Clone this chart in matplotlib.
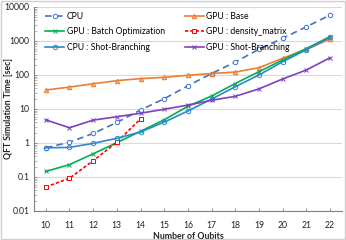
import matplotlib
matplotlib.use("Agg")
import matplotlib.pyplot as plt
from matplotlib.ticker import LogLocator, NullFormatter
from matplotlib.patches import Rectangle

qubits = list(range(10, 23))
qubits_dm = list(range(10, 15))

cpu = [0.72, 1.05, 1.9, 4.0, 9.3, 20, 48, 110, 240, 570, 1200, 2600, 5800]
gpu_base = [36, 44, 55, 68, 78, 85, 98, 110, 122, 163, 310, 570, 1130]
gpu_batch = [0.145, 0.23, 0.48, 1.02, 2.2, 4.8, 12, 24, 56, 125, 275, 600, 1340]
gpu_dm = [0.051, 0.091, 0.30, 1.05, 5.1]
cpu_sb = [0.72, 0.74, 0.97, 1.37, 2.1, 4.1, 8.7, 19.5, 45, 100, 245, 550, 1280]
gpu_sb = [4.8, 2.8, 4.7, 5.9, 7.5, 9.8, 13, 18, 23.5, 39, 76, 140, 320]

xticklabels = [str(q) for q in qubits]
yticks = [0.01, 0.1, 1, 10, 100, 1000, 10000]
yticklabels = ["0.01", "0.1", "1", "10", "100", "1000", "10000"]

plt.rcParams['font.family'] = ['Lato', 'DejaVu Sans']

fig = plt.figure(figsize=(3.46, 2.40), dpi=100)
ax = fig.add_axes([0.098, 0.121, 0.890, 0.850])

ms = 3.2
lw = 1.2
h_cpu, = ax.plot(qubits, cpu, color='#4472C4', ls=(0, (4, 2.5)), lw=lw, marker='o',
                 ms=ms, mfc='white', mec='#4472C4', mew=0.7, label='CPU')
h_base, = ax.plot(qubits, gpu_base, color='#ED7D31', lw=lw, marker='^', ms=ms,
                  mfc='#F4B183', mec='#ED7D31', mew=0.7, label='GPU : Base')
h_batch, = ax.plot(qubits, gpu_batch, color='#00B050', lw=lw, marker='x', ms=ms,
                   mec='#00B050', mew=0.7, label='GPU : Batch Optimization')
h_dm, = ax.plot(qubits_dm, gpu_dm, color='#FF0000', ls=(0, (2, 1.2)), lw=lw, marker='s',
                ms=ms, mfc='white', mec='#FF0000', mew=0.7, label='GPU : density_matrix')
h_csb, = ax.plot(qubits, cpu_sb, color='#2E86D0', lw=lw, marker='o', ms=ms,
                 mfc='none', mec='#2E86D0', mew=0.7, label='CPU : Shot-Branching')
h_gsb, = ax.plot(qubits, gpu_sb, color='#7F3FBF', lw=lw, marker='x', ms=ms,
                 mec='#7F3FBF', mew=0.7, label='GPU : Shot-Branching')

ax.set_yscale('log')
ax.set_ylim(0.01, 10000)
ax.set_xlim(9.5, 22.5)
ax.set_yticks(yticks)
ax.set_yticklabels(yticklabels)
ax.yaxis.set_minor_locator(LogLocator(base=10, subs=range(2, 10), numticks=20))
ax.yaxis.set_minor_formatter(NullFormatter())
ax.set_xticks(qubits)
ax.set_xticklabels(xticklabels)

ax.grid(axis='y', which='major', color='#D9D9D9', lw=0.8)
ax.set_axisbelow(True)
for s in ['top', 'right']:
    ax.spines[s].set_visible(False)
for s in ['left', 'bottom']:
    ax.spines[s].set_color('#808080')
    ax.spines[s].set_linewidth(0.8)

ax.tick_params(axis='both', which='major', labelsize=6.2, colors='#808080',
               labelcolor='#222222', length=2.5, width=0.6, direction='in')
ax.tick_params(axis='y', which='minor', length=2, width=0.5, colors='#A0A0A0', direction='in')
ax.tick_params(axis='x', pad=7)
ax.tick_params(axis='y', pad=3)

ax.set_xlabel('Number of Qubits', fontsize=6.3, fontweight='bold', labelpad=1, color='#222222')
ax.set_ylabel('QFT Simulation Time [sec]', fontsize=6.2, fontweight='bold', color='#222222')
ax.yaxis.set_label_coords(-0.068, 0.5)

handles = [h_cpu, h_batch, h_csb, h_base, h_dm, h_gsb]
ax.legend(handles=handles, labels=[h.get_label() for h in handles], ncol=2,
          loc='upper left', bbox_to_anchor=(0.015, 1.01), frameon=False, fontsize=6.2,
          handlelength=2.2, handletextpad=0.3, columnspacing=2.3, labelspacing=0.75,
          borderaxespad=0.4)

fig.patches.append(Rectangle((0.002, 0.003), 0.996, 0.993, transform=fig.transFigure,
                             fill=False, edgecolor='#D0D0D0', lw=1.0))

fig.savefig('out.png', dpi=100)
